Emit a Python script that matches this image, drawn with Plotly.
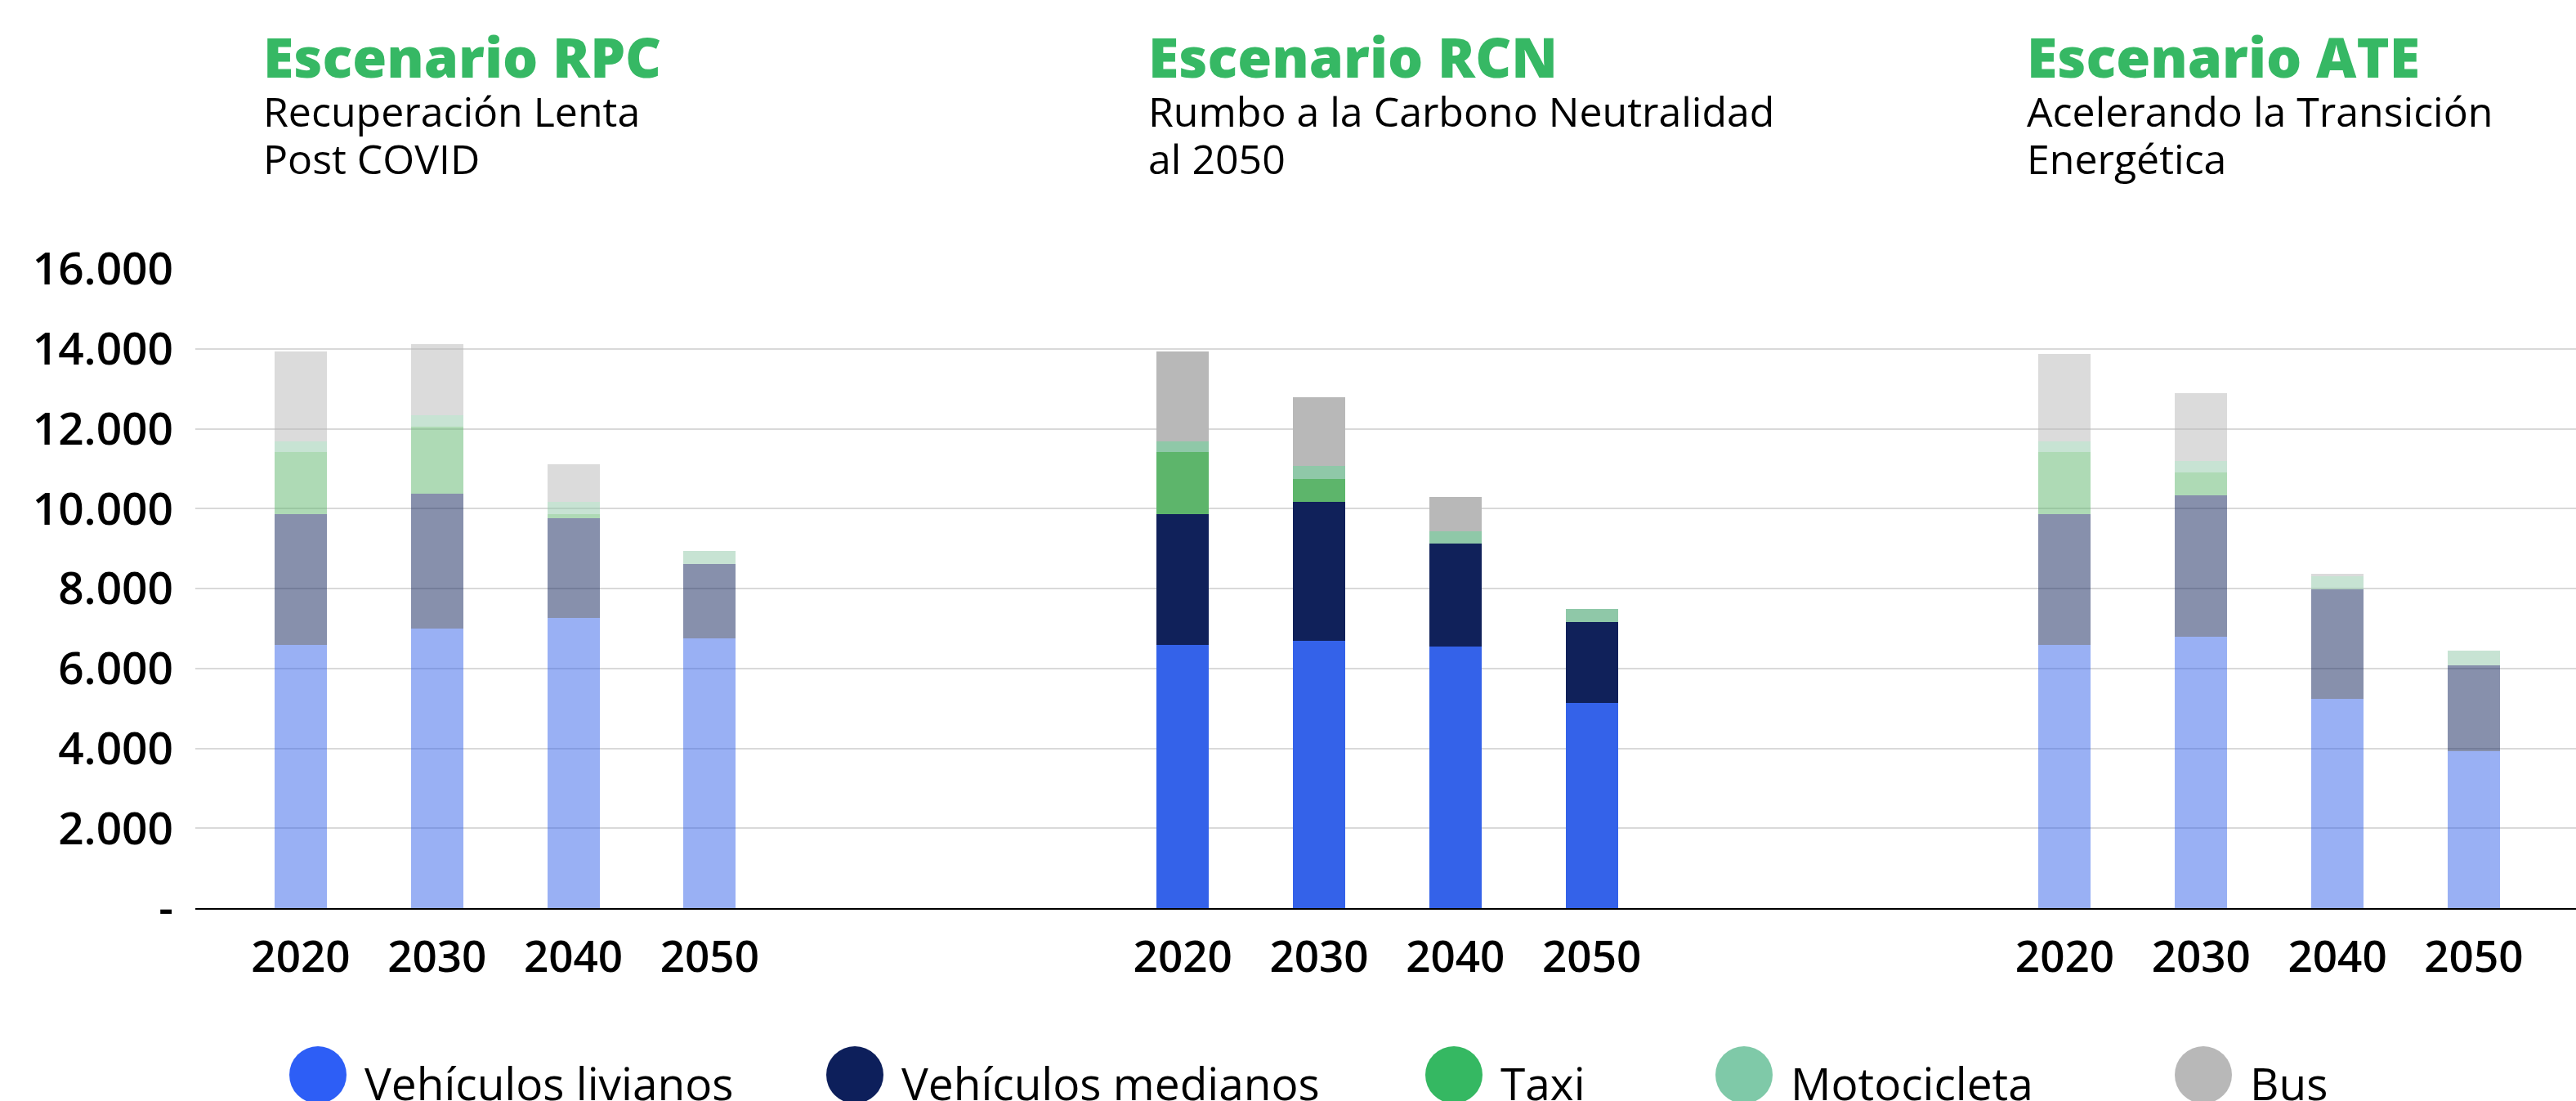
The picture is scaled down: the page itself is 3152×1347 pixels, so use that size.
import plotly.graph_objects as go

# ---- data -------------------------------------------------------------
scenarios = ["RPC", "RCN", "ATE"]
scenario_titles = ["Escenario RPC", "Escenario RCN", "Escenario ATE"]
scenario_subtitles = [
    ["Recuperación Lenta", "Post COVID"],
    ["Rumbo a la Carbono Neutralidad", "al 2050"],
    ["Acelerando la Transición", "Energética"],
]
years = ["2020", "2030", "2040", "2050"]

# values ordered RPC 2020..2050, RCN 2020..2050, ATE 2020..2050
livianos = [6585, 6994, 7260, 6748, 6585, 6687, 6544, 5133, 6585, 6789, 5235, 3926]
medianos = [3272, 3374, 2495, 1861, 3272, 3477, 2577, 2024, 3272, 3538, 2740, 2148]
taxi = [1554, 1683, 108, 0, 1554, 572, 0, 0, 1554, 573, 0, 0]
motocicleta = [266, 295, 301, 328, 266, 327, 320, 328, 266, 300, 322, 368]
bus = [2249, 1764, 940, 0, 2249, 1718, 845, 0, 2188, 1683, 67, 0]

series_names = ["Vehículos livianos", "Vehículos medianos", "Taxi", "Motocicleta", "Bus"]
series_values = [livianos, medianos, taxi, motocicleta, bus]

y_tickvals = [0, 2000, 4000, 6000, 8000, 10000, 12000, 14000, 16000]
y_ticktext = ["-", "2.000", "4.000", "6.000", "8.000", "10.000", "12.000", "14.000", "16.000"]

# ---- style ------------------------------------------------------------
bar_colors = ["#3462e9", "#10215a", "#5db56b", "#8fc8a8", "#b8b8b8"]
legend_colors = ["#2d5ef6", "#0d1f5b", "#35b862", "#7fc9a8", "#b8b8b8"]
scenario_alpha = [0.5, 1.0, 0.5]
title_green = "#36b864"
FONT = "Open Sans"

W, H = 3152, 1347
ML, MR, MT, MB = 239, 0, 329, 236
GROUP_STEP = 6.47
BAR_W = 0.384


def px_x(p):
    return (p - ML) / (W - ML - MR)


def px_y(p):
    return (H - MB - p) / (H - MT - MB)


def rgba(hex_color, a):
    h = hex_color.lstrip("#")
    r, g, b = int(h[0:2], 16), int(h[2:4], 16), int(h[4:6], 16)
    return f"rgba({r},{g},{b},{a})"


positions = [g * GROUP_STEP + i for g in range(len(scenarios)) for i in range(len(years))]
tick_labels = years * len(scenarios)

fig = go.Figure()
for name, vals, col in zip(series_names, series_values, bar_colors):
    colors = [rgba(col, scenario_alpha[g]) for g in range(len(scenarios)) for _ in years]
    fig.add_trace(go.Bar(
        x=positions, y=vals, name=name, width=BAR_W,
        marker=dict(color=colors, line=dict(width=0)),
        showlegend=False,
    ))

# scenario headings
title_x = [320, 1403, 2478]
annotations = []
for g in range(len(scenarios)):
    annotations.append(dict(
        x=px_x(title_x[g]), y=px_y(68), xref="paper", yref="paper",
        xanchor="left", yanchor="middle", showarrow=False,
        text=scenario_titles[g],
        font=dict(family=FONT, size=68, color=title_green, weight=800),
    ))
    for k, line in enumerate(scenario_subtitles[g]):
        annotations.append(dict(
            x=px_x(title_x[g]), y=px_y(136 + 58 * k), xref="paper", yref="paper",
            xanchor="left", yanchor="middle", showarrow=False,
            text=line,
            font=dict(family=FONT, size=50, color="#000000"),
        ))

# legend row
legend_cx = [389, 1046, 1779, 2134, 2696]
legend_cy = 1315
R = 35
shapes = []
for cx, name, col in zip(legend_cx, series_names, legend_colors):
    shapes.append(dict(
        type="circle", xref="paper", yref="paper",
        x0=px_x(cx - R), x1=px_x(cx + R), y0=px_y(legend_cy + R), y1=px_y(legend_cy - R),
        fillcolor=col, line=dict(width=0), layer="above",
    ))
    annotations.append(dict(
        x=px_x(cx + 55), y=px_y(1324), xref="paper", yref="paper",
        xanchor="left", yanchor="middle", showarrow=False,
        text=name, font=dict(family=FONT, size=55, color="#000000"),
    ))

fig.update_layout(
    width=W, height=H,
    margin=dict(l=ML, r=MR, t=MT, b=MB, pad=0),
    barmode="stack",
    plot_bgcolor="white", paper_bgcolor="white",
    showlegend=False,
    annotations=annotations,
    shapes=shapes,
    xaxis=dict(
        range=[-0.773, 16.69], tickvals=positions, ticktext=tick_labels,
        showgrid=False, zeroline=False,
        showline=True, linecolor="#000000", linewidth=2,
        ticks="", ticklabelstandoff=12,
        tickfont=dict(family=FONT, size=53, color="#000000", weight=600),
        fixedrange=True,
    ),
    yaxis=dict(
        range=[0, 16000], tickvals=y_tickvals, ticktext=y_ticktext,
        showgrid=True, gridcolor="#d9d9d9", gridwidth=2,
        zeroline=False, showline=False,
        ticks="", ticklabelstandoff=26,
        tickfont=dict(family=FONT, size=55, color="#000000", weight=600),
        fixedrange=True,
    ),
)

fig.write_html("out.html")
